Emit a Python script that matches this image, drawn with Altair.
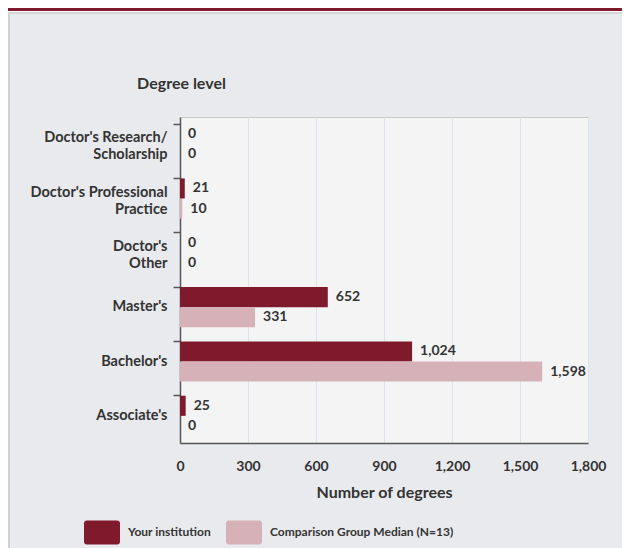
import altair as alt
import pandas as pd

categories = ["Doctor's Research/|Scholarship", "Doctor's Professional|Practice",
              "Doctor's|Other", "Master's", "Bachelor's", "Associate's"]
series = ["Your institution", "Comparison Group Median (N=13)"]
your_values = [0, 21, 0, 652, 1024, 25]
comp_values = [0, 10, 0, 331, 1598, 0]
x_ticks = [0, 300, 600, 900, 1200, 1500, 1800]
colors = ["#7e1a2c", "#d7b1b8"]

rows = []
for c, a, b in zip(categories, your_values, comp_values):
    rows.append({"cat": c, "series": series[0], "value": a})
    rows.append({"cat": c, "series": series[1], "value": b})
df = pd.DataFrame(rows)

FONT = "Lato"
TXT = "#333333"

y_enc = alt.Y("cat:N", sort=categories,
              scale=alt.Scale(paddingInner=0.26, paddingOuter=0.13),
              axis=alt.Axis(title="Degree level", titleAngle=0, titleX=1, titleY=-34,
                            titleAlign="center", titleBaseline="middle",
                            titleFont=FONT, titleFontSize=16, titleFontWeight="bold",
                            titleColor=TXT,
                            labelExpr="split(datum.value, '|')",
                            labelOffset={"condition": {"test": "indexof(datum.value, '|') >= 0",
                                                       "value": -6}, "value": 0},
                            labelFont=FONT, labelFontSize=14.5, labelFontWeight="bold",
                            labelColor=TXT, labelLineHeight=17,
                            labelPadding=6, tickSize=7, bandPosition=0,
                            tickColor="#555555", domainColor="#555555",
                            domainWidth=1.5, tickWidth=1.5, grid=False))
x_enc = alt.X("value:Q", scale=alt.Scale(domain=[0, 1800], nice=False),
              axis=alt.Axis(title="Number of degrees", values=x_ticks, format=",d",
                            ticks=False, labelPadding=16, labelFlush=False,
                            labelFont=FONT, labelFontSize=14, labelFontWeight="bold",
                            labelColor=TXT, titleFont=FONT, titleFontSize=16,
                            titleFontWeight="bold", titleColor=TXT, titlePadding=11,
                            domainColor="#555555", domainWidth=1.5,
                            grid=True, gridColor="#dde3ee", gridWidth=1))
yoff = alt.YOffset("series:N", sort=series, scale=alt.Scale(paddingInner=0.0))

rounded = ("M-0.85,-0.667H0.85A0.15,0.15 0 0 1 1,-0.517V0.517A0.15,0.15 0 0 1 0.85,0.667"
           "H-0.85A0.15,0.15 0 0 1 -1,0.517V-0.517A0.15,0.15 0 0 1 -0.85,-0.667Z")

bars = alt.Chart(df).mark_bar().encode(
    y=y_enc, x=x_enc, yOffset=yoff,
    color=alt.Color("series:N", sort=series,
                    scale=alt.Scale(domain=series, range=colors),
                    legend=alt.Legend(title=None, orient="none", direction="horizontal",
                                      legendX=-96, legendY=397, symbolType=rounded,
                                      symbolSize=1296, symbolStrokeWidth=0,
                                      symbolOpacity=1, labelLimit=400,
                                      labelFont=FONT, labelFontSize=12,
                                      labelFontWeight="bold", labelColor=TXT,
                                      labelOffset=8, columnPadding=15, padding=0)),
)

labels = alt.Chart(df).mark_text(align="left", baseline="middle", dx=8,
                                 font=FONT, fontSize=14, fontWeight="bold",
                                 color=TXT).encode(
    y=alt.Y("cat:N", sort=categories), x="value:Q", yOffset=yoff,
    text=alt.Text("value:Q", format=",d"))

# decoration: white top strip and dark red rule above the panel
strip = alt.Chart(df).mark_rect(color="white").encode(
    x=alt.value(-180), x2=alt.value(460), y=alt.value(-109), y2=alt.value(-104))
redline = alt.Chart(df).mark_rect(color="#7e1a2c").encode(
    x=alt.value(-172), x2=alt.value(460), y=alt.value(-109), y2=alt.value(-106))
border = alt.Chart(df).mark_rule(color="#cfcfcf", strokeWidth=1.5).encode(
    x=alt.value(-171.5), y=alt.value(-104), y2=alt.value(440))
topborder = alt.Chart(df).mark_rule(color="#d5d5d5", strokeWidth=1.5).encode(
    x=alt.value(-172), x2=alt.value(460), y=alt.value(-104))

chart = alt.layer(bars, labels, strip, redline, border, topborder).properties(
    width=408, height=326,
    padding={"left": 172, "top": 109, "right": 34, "bottom": 105},
    autosize=alt.AutoSizeParams(type="none"),
    background="#e9eaee",
).configure_view(fill="#f4f4f4", stroke="#c8c8c8", strokeWidth=1)

chart.save("out.html", embed_options={"renderer": "svg", "actions": False})
